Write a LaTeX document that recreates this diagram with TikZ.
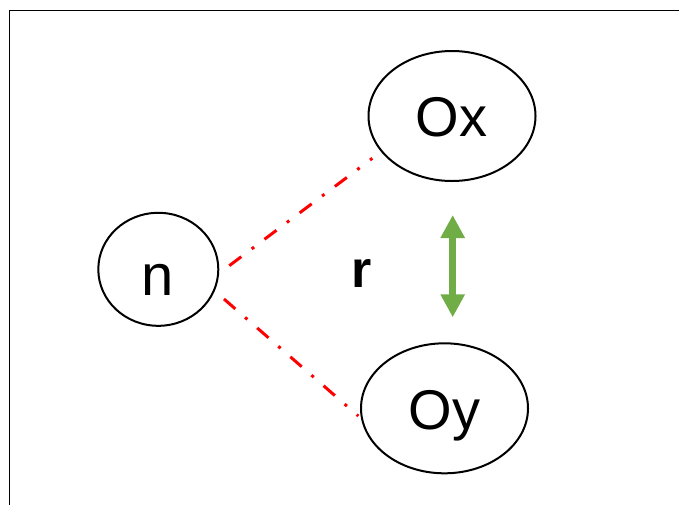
\documentclass[tikz,border=0pt]{standalone}
\usepackage{fontspec}
\setmainfont{Liberation Sans}
\usetikzlibrary{shapes.geometric,arrows.meta}
\definecolor{officegreen}{HTML}{70AD47}
\begin{document}
\begin{tikzpicture}[x=1pt,y=-1pt,
  oval/.style={draw=black, line width=2pt, ellipse, inner sep=0pt},
  lbl/.style={anchor=base, inner sep=0pt, font=\fontsize{56}{60}\selectfont},
  redlink/.style={draw=red, line width=3pt, dash pattern=on 15pt off 13pt on 3pt off 13pt},
  greenarrow/.style={draw=officegreen, line width=7.5pt,
    {Triangle[width=23pt,length=23pt]}-{Triangle[width=23pt,length=23pt]}}]
\useasboundingbox (0,0) rectangle (679,504);
% frame (top and left edges)
\draw[line width=1pt] (9.5,510) -- (9.5,10.5) -- (690,10.5);
% nodes
\node[oval, minimum width=120pt, minimum height=113pt] (n) at (158.3,269.3) {};
\node[oval, minimum width=167pt, minimum height=130pt] (Ox) at (452,116) {};
\node[oval, minimum width=167pt, minimum height=130pt] (Oy) at (444.5,408.3) {};
\node[lbl] (nl) at (157.5,295) {\fontsize{58}{60}\selectfont n};
\node[lbl] (Oxl) at (451.5,136) {Ox};
\node[lbl] (Oyl) at (444.5,429) {Oy};
\node[lbl] (r) at (362,287) {\fontsize{52}{60}\selectfont\bfseries r};
% connector ends
\coordinate (n-up) at (229.3,265.7);
\coordinate (Ox-in) at (372.3,158.3);
\coordinate (n-down) at (224,299);
\coordinate (Oy-in) at (358.3,416);
\coordinate (Ox-below) at (452.7,215);
\coordinate (Oy-above) at (452.7,317.3);
\draw[redlink] (n-up) -- (Ox-in);
\draw[redlink] (n-down) -- (Oy-in);
\draw[greenarrow] (Ox-below) -- (Oy-above);
\end{tikzpicture}
\end{document}
